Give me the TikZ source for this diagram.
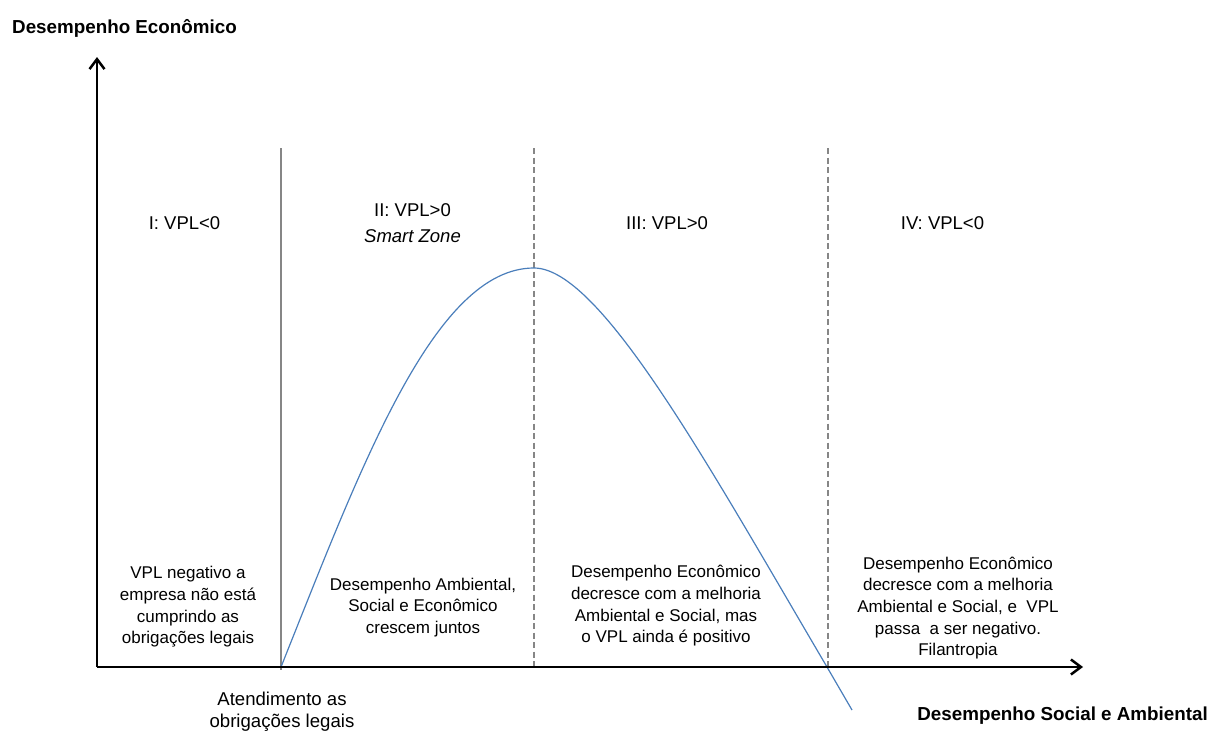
\documentclass[tikz,border=0pt]{standalone}
\usepackage{fontspec}
\setmainfont{Liberation Sans}
\usetikzlibrary{arrows.meta}
\begin{document}
\begin{tikzpicture}[x=1pt,y=-1pt,
  axis/.style={line width=2.5pt,black,-{Straight Barb[length=10pt,width=15pt]}},
  solidsep/.style={line width=2pt,draw=gray!95},
  dashsep/.style={line width=2pt,draw=gray!95,dash pattern=on 6pt off 3.5pt},
  curvestyle/.style={line width=1.2pt,draw=curveblue},
  header/.style={font=\fontsize{18.5}{26}\selectfont,inner sep=0pt,align=center},
  body/.style={font=\fontsize{17}{21.7}\selectfont,inner sep=0pt,align=center},
  axlabel/.style={font=\fontsize{18.8}{22}\selectfont\bfseries,inner sep=0pt},
]
\definecolor{curveblue}{HTML}{4A7EBB}
\useasboundingbox (0,0) rectangle (1213,731);
% named coordinates
\coordinate (O) at (97,667);
\coordinate (Ytop) at (97,57);
\coordinate (Xend) at (1083,667);
\coordinate (S1t) at (281,148);
\coordinate (S1b) at (281,670);
\coordinate (S2t) at (534,148);
\coordinate (S2b) at (534,670);
\coordinate (S3t) at (828,148);
\coordinate (S3b) at (828,670);
\coordinate (Cstart) at (281,667);
\coordinate (Cpeak) at (534,268);
\coordinate (Ccross) at (827,667);
\coordinate (Cend) at (852,710);
% separators
\draw[solidsep] (S1t) -- (S1b);
\draw[dashsep] (S2t) -- (S2b);
\draw[dashsep] (S3t) -- (S3b);
% curve
\draw[curvestyle] (Cstart) .. controls (361,467) and (434,268) .. (Cpeak)
  .. controls (600,268) and (707,463) .. (Ccross) -- (Cend);
% axes
\draw[axis] (O) -- (Ytop);
\draw[axis] (O) -- (Xend);
% axis labels
\node[axlabel,anchor=base west] (ylab) at (12,33.3) {Desempenho Econômico};
\node[axlabel,anchor=base east] (xlab) at (1208,720.7) {Desempenho Social e Ambiental};
% headers
\node[header,anchor=base] (h1) at (184.5,229) {I: VPL<0};
\node[header,anchor=center] (h2) at (412.5,223.4) {II: VPL>0\\\textit{Smart Zone}};
\node[header,anchor=base] (h3) at (667,229) {III: VPL>0};
\node[header,anchor=base] (h4) at (942.5,229) {IV: VPL<0};
% body texts
\node[body] (b1) at (188,607) {VPL negativo a\\empresa não está\\cumprindo as\\obrigações legais};
\node[body] (b2) at (423,607.5) {Desempenho Ambiental,\\Social e Econômico\\crescem juntos};
\node[body] (b3) at (666,606) {Desempenho Econômico\\decresce com a melhoria\\Ambiental e Social, mas\\o VPL ainda é positivo};
\node[body] (b4) at (958,608) {Desempenho Econômico\\decresce com a melhoria\\Ambiental e Social, e\ \ VPL\\passa\ \ a ser negativo.\\Filantropia};
\node[font=\fontsize{18.6}{22.3}\selectfont,inner sep=0pt,align=center] (atend) at (282,712) {Atendimento as\\obrigações legais};
\end{tikzpicture}
\end{document}
